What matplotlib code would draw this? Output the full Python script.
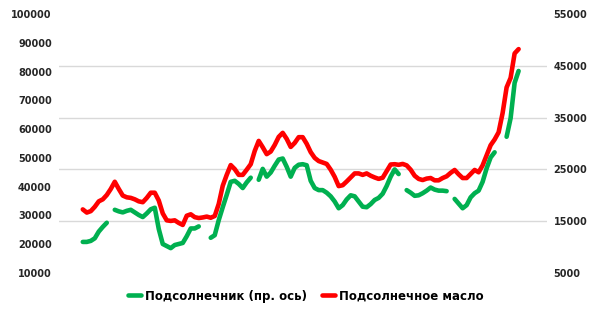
import numpy as np
import matplotlib
matplotlib.use("Agg")
import matplotlib.pyplot as plt
from matplotlib.ticker import FixedLocator

# Подсолнечное масло (левая ось)
maslo = [32100, 31000, 31500, 33000, 34900, 35600, 37100, 39200, 41700, 39200,
         36900, 36300, 36100, 35600, 34900, 34600, 36100, 37900, 37900, 35200,
         30700, 28300, 28100, 28300, 27400, 26700, 29900, 30400, 29400, 29100,
         29300, 29600, 29200, 29800, 34000, 40300, 44100, 47500, 46100, 44100,
         44100, 45900, 47800, 52400, 55900, 53700, 51300, 52200, 54500, 57300,
         58700, 56600, 53800, 55200, 57200, 57200, 54900, 52000, 50000, 48900,
         48400, 47900, 45900, 43400, 40200, 40500, 41800, 43200, 44600, 44600,
         44100, 44600, 43800, 43200, 42700, 43100, 45400, 47700, 47800, 47600,
         47900, 47400, 45900, 43800, 42700, 42300, 42800, 43000, 42200, 42200,
         43000, 43600, 44800, 45800, 44300, 43000, 43000, 44400, 45800, 45000,
         47400, 50900, 54400, 56400, 58900, 65600, 74500, 77800, 86300, 87800]

# Подсолнечник (правая ось), None - нет данных
semechki = [11000, 11000, 11200, 11700, 13000, 13900, 14700, None, 17200, 16900,
            16700, 17000, 17200, 16700, 16200, 15800, 16500, 17300, 17600, 13500,
            10600, 10200, 9800, 10400, 10600, 10800, 12100, 13600, 13600, 14000,
            None, None, 11800, 12300, 15200, 17700, 20100, 22600, 22800, 22200,
            21400, 22500, 23400, None, 23000, 25100, 23600, 24400, 25700, 26900,
            27100, 25500, 23600, 25300, 25900, 26000, 25800, 22800, 21400, 21000,
            21000, 20500, 19800, 18800, 17500, 18100, 19200, 20000, 19800, 18800,
            17800, 17700, 18300, 19100, 19500, 20300, 21800, 23600, 25000, 24100,
            None, 21000, 20500, 19900, 20000, 20400, 20900, 21500, 21100, 20900,
            20900, 20800, None, 19300, 18400, 17500, 18100, 19600, 20400, 20900,
            22600, 25200, 27300, 28300, None, None, 31300, 34900, 41700, 44000]

x = np.arange(len(maslo))
sem = np.array([np.nan if v is None else v for v in semechki], dtype=float)

fig = plt.figure(figsize=(6, 3.18), dpi=100)
ax = fig.add_axes([0.098, 0.1415, 0.813, 0.8145])
ax2 = ax.twinx()

ax.plot(x, maslo, color="#FF0000", lw=3.3, solid_capstyle="round", solid_joinstyle="round",
        label="Подсолнечное масло")
ax2.plot(x, sem, color="#00B050", lw=3.3, solid_capstyle="round", solid_joinstyle="round",
         label="Подсолнечник (пр. ось)")

ax.set_xlim(-6, 116)
ax.set_ylim(10000, 100000)
ax2.set_ylim(5000, 55000)
ax.set_yticks(np.arange(10000, 100001, 10000))
ax2.set_yticks(np.arange(5000, 55001, 10000))
ax.set_xticks([])

# сетка по правой оси, рисуем на нижней оси
ax.yaxis.set_minor_locator(FixedLocator(np.arange(10000, 100001, 18000)))
ax.grid(True, which="minor", axis="y", color="#D9D9D9", lw=1.0)
ax.tick_params(axis="y", which="minor", length=0)

for a in (ax, ax2):
    for s in a.spines.values():
        s.set_visible(False)
    a.tick_params(axis="y", which="major", length=0, pad=5, labelsize=7, colors="#262626")
    for t in a.get_yticklabels():
        t.set_fontweight("bold")

h1, l1 = ax2.get_legend_handles_labels()
h2, l2 = ax.get_legend_handles_labels()
fig.legend(h1 + h2, l1 + l2, loc="center", bbox_to_anchor=(0.51, 0.069), ncol=2,
           frameon=False, handlelength=1.1, handletextpad=0.3, columnspacing=1.3,
           prop={"weight": "bold", "size": 8.5})

fig.savefig("out.png", dpi=100)
